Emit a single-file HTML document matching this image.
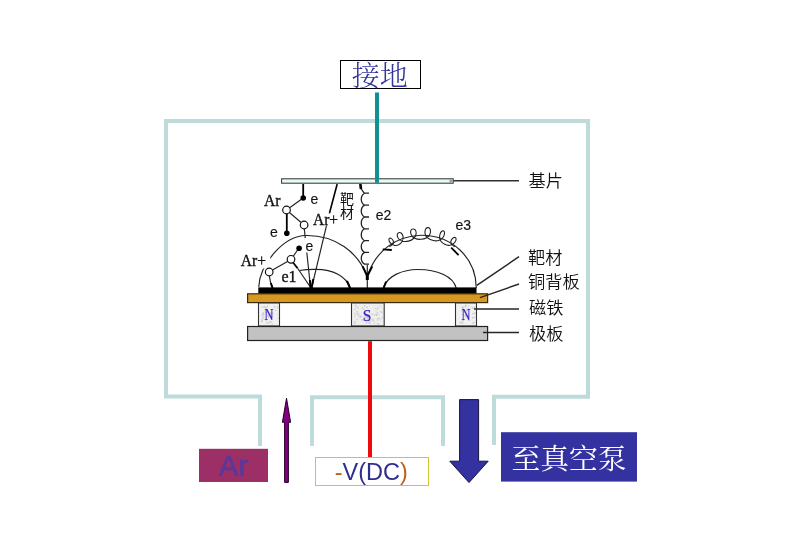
<!DOCTYPE html>
<html lang="zh">
<head>
<meta charset="utf-8">
<title>磁控溅射原理</title>
<style>
html,body{margin:0;padding:0;background:#fff;}
body{width:787px;height:550px;overflow:hidden;position:relative;}
svg{position:absolute;left:0;top:0;display:block;will-change:transform;}
.cjk{font-family:"Liberation Serif","Noto Serif CJK SC",serif;}
.lab{font-family:"Liberation Sans","Noto Sans CJK SC",sans-serif;font-size:17.2px;font-weight:350;fill:#111;}
.ser{font-family:"Liberation Serif","Noto Serif CJK SC",serif;font-size:16px;fill:#111;stroke:#111;stroke-width:0.35px;}
.san{font-family:"Liberation Sans","Noto Sans CJK SC",sans-serif;font-size:14px;fill:#111;stroke:#111;stroke-width:0.15px;}
.ln{stroke:#222;stroke-width:1.15;fill:none;}
.tk{stroke:#000;stroke-width:1.8;fill:none;}
</style>
</head>
<body>
<svg width="787" height="550" viewBox="0 0 787 550">
<rect x="0" y="0" width="787" height="550" fill="#ffffff"/>

<!-- chamber outline -->
<g fill="none" stroke="#bddbda" stroke-width="4" stroke-linejoin="miter">
  <path d="M260 446 V396.6 H166 V121 H588 V396.8 H494 V445"/>
  <path d="M312 446 V397.2 H443 V446"/>
</g>

<!-- ground -->

<rect x="340.5" y="60.5" width="80" height="28" fill="#fff" stroke="#000" stroke-width="1"/>
<text class="cjk" x="379.7" y="86" font-size="28" font-weight="300" fill="#333399" text-anchor="middle">接地</text>

<!-- substrate -->
<rect x="281.6" y="178.8" width="171.6" height="4.4" fill="#eef8f5" stroke="#333a3a" stroke-width="1.05"/>
<rect x="449.5" y="179.3" width="3.2" height="3.6" fill="#9aa4a2"/>
<rect x="375" y="92.5" width="4" height="90.3" fill="#128f91"/>
<line class="ln" x1="453.5" y1="180.7" x2="519" y2="180.7" style="stroke:#303030;stroke-width:1.4"/>
<text class="lab" x="528.5" y="187.4">基片</text>

<!-- field lines -->
<g class="ln">
  <path d="M258.8 287 C259.5 265 283 235.8 306 235.5 C335 235 358 252 367 276"/>
  <path d="M367.6 276 C375 252 395 236 421 235.3 C450 235 476 256 476.3 288"/>
  <path d="M299.5 270.5 C305 269.5 311 269.3 316 269.4 C333 269.6 346 276 350.3 288"/>
  <path d="M383.6 287 C388 276 402 269.5 418 269.5 C437 269.5 453 276 456.2 288"/>
  <line x1="367.3" y1="265" x2="367.3" y2="288"/>
  <path d="M389.5 246.7 C391.7 245.2 395.0 243.9 393.1 240.5 C391.9 238.4 390.6 237.7 389.6 238.3 C388.6 238.9 388.6 240.4 389.9 242.4 C392.0 245.7 396.3 246.0 398.7 244.7 C401.1 243.6 404.3 239.7 402.9 235.7 C402.0 233.0 400.5 232.1 398.8 232.7 C397.2 233.3 396.7 235.1 397.8 237.6 C399.6 241.6 405.1 242.1 408.5 241.1 C412.1 240.3 416.6 237.1 416.2 232.8 C415.9 230.0 414.6 228.7 412.8 229.0 C411.1 229.2 410.2 230.8 410.8 233.6 C411.6 237.8 416.9 239.6 420.7 239.3 C424.5 239.4 429.8 237.3 430.4 232.7 C430.8 229.5 429.9 227.8 428.1 227.6 C426.3 227.4 425.1 229.0 424.9 232.2 C424.7 236.9 429.5 239.8 433.3 240.5 C437.0 241.4 442.1 240.5 443.8 236.1 C445.0 233.2 444.7 231.3 443.4 230.9 C442.1 230.4 440.8 231.7 439.8 234.8 C438.4 239.3 441.6 243.0 444.7 244.3 C447.7 245.9 452.6 245.9 454.9 242.3 C456.4 239.9 456.5 238.3 455.3 237.6 C454.1 236.9 452.7 237.7 451.3 240.1 C449.2 243.9 452.7 245.4 454.8 246.8" stroke-width="1.1"/>
</g>

<!-- particles -->
<g class="ln">
  <line x1="303.2" y1="198" x2="286.5" y2="210"/>
  <line x1="286.5" y1="210" x2="304" y2="225"/>
  <line x1="304.3" y1="229" x2="310.6" y2="288"/>
  <line x1="329.5" y1="213" x2="311.6" y2="288"/>
  <line x1="299" y1="248" x2="291" y2="259.5"/>
  <line x1="291" y1="259.5" x2="269" y2="272"/>
  <line x1="297.6" y1="268.2" x2="311" y2="288"/>
  <path d="M269.4 276 C269.8 281 270.8 284 272.6 288"/>
  <path d="M360.4 184 L361 188.5 L364.2 193.2 M369 193.2 H364.5 C360.2 195.7 360.2 202.6 364.5 205.1 M369 205.1 H364.5 C360.2 207.6 360.2 214.5 364.5 217.0 M369 217.0 H364.5 C360.2 219.5 360.2 226.3 364.5 228.8 M369 228.8 H364.5 C360.2 231.3 360.2 238.2 364.5 240.7 M369 240.7 H364.5 C360.2 243.2 360.2 249.9 364.5 252.4 M369 252.4 H364.5 C360.2 254.9 360.2 261.6 364.5 264.1 H369" style="stroke-width:1.3"/>
</g>
<g class="tk">
  <line x1="303.2" y1="184" x2="303.2" y2="197"/>
  <line x1="337.2" y1="184" x2="329.5" y2="213" stroke-width="1.6"/>
  <line x1="286.8" y1="214" x2="286.8" y2="232"/>
  <line x1="293" y1="262.5" x2="297.6" y2="268.2"/>
  <line x1="360.3" y1="184" x2="361" y2="189" stroke-width="2.6"/>
  <line x1="382.7" y1="249.3" x2="391.8" y2="250"/>
  <line x1="451.2" y1="247.7" x2="458.6" y2="255.2"/>
  <line x1="367.3" y1="273" x2="367.3" y2="280" stroke-width="3"/>
  <line x1="362.6" y1="266.4" x2="366.8" y2="275" stroke-width="2"/>
  <line x1="372.2" y1="266.4" x2="367.9" y2="275" stroke-width="2"/>
  <line x1="347" y1="281" x2="350" y2="288" stroke-width="2"/>
  <line x1="386.2" y1="281.5" x2="383.6" y2="288" stroke-width="2"/>
  <line x1="313.3" y1="279" x2="311.6" y2="288" stroke-width="2"/>
  <line x1="309.9" y1="280" x2="310.6" y2="288" stroke-width="2"/>
  <line x1="270.8" y1="283" x2="272.6" y2="288" stroke-width="2"/>
</g>

<!-- label backgrounds -->
<rect x="239" y="257.5" width="31.5" height="11" fill="#fff"/>
<rect x="312" y="213.5" width="27" height="12" fill="#fff"/>
<rect x="304.5" y="238" width="9.5" height="14.5" fill="#fff"/>

<g fill="#000">
  <circle cx="303.2" cy="198" r="2.8"/>
  <circle cx="286.8" cy="233.3" r="2.8"/>
  <circle cx="299.1" cy="248.3" r="2.8"/>
</g>
<g fill="#fff" stroke="#111" stroke-width="1.2">
  <circle cx="286.5" cy="210" r="3.8"/>
  <circle cx="304.1" cy="225" r="3.8"/>
  <circle cx="291" cy="259.3" r="3.8"/>
  <circle cx="269.2" cy="272" r="3.8"/>
</g>

<!-- target, copper, magnets, plate -->
<rect x="258.3" y="287.4" width="218.2" height="6.3" fill="#000"/>
<rect x="247.6" y="293.8" width="240" height="8.8" fill="#d8981f" stroke="#3a2a10" stroke-width="1.2"/>
<rect x="258.5" y="303" width="21" height="23" fill="#f1f1f1" stroke="#333" stroke-width="1.1"/>
<rect x="351.5" y="303" width="32.7" height="23" fill="#eeeeee" stroke="#333" stroke-width="1.1"/>
<rect x="455.5" y="303" width="21" height="23" fill="#f1f1f1" stroke="#333" stroke-width="1.1"/>
<g><rect x="266.0" y="307.4" width="1.4" height="1.4" fill="#dcdcdc"/><rect x="261.3" y="320.1" width="1.4" height="1.4" fill="#c6c9d0"/><rect x="266.7" y="305.6" width="1.4" height="1.4" fill="#c8cdc6"/><rect x="264.1" y="306.1" width="1.4" height="1.4" fill="#d2d2d2"/><rect x="261.7" y="306.2" width="1.4" height="1.4" fill="#d2d2d2"/><rect x="261.5" y="315.2" width="1.4" height="1.4" fill="#d0d3ca"/><rect x="271.2" y="315.6" width="1.4" height="1.4" fill="#c6c9d0"/><rect x="270.3" y="312.0" width="1.4" height="1.4" fill="#d0d3ca"/><rect x="261.3" y="320.8" width="1.4" height="1.4" fill="#c2c6cc"/><rect x="267.6" y="314.8" width="1.4" height="1.4" fill="#c8cdc6"/><rect x="265.7" y="320.0" width="1.4" height="1.4" fill="#d0d3ca"/><rect x="262.3" y="315.4" width="1.4" height="1.4" fill="#d0d3ca"/><rect x="266.8" y="314.9" width="1.4" height="1.4" fill="#c6c9d0"/><rect x="270.1" y="316.3" width="1.4" height="1.4" fill="#d2d2d2"/><rect x="272.1" y="312.6" width="1.4" height="1.4" fill="#c2c6cc"/><rect x="268.4" y="322.0" width="1.4" height="1.4" fill="#c2c6cc"/><rect x="265.6" y="319.6" width="1.4" height="1.4" fill="#dcdcdc"/><rect x="273.8" y="306.1" width="1.4" height="1.4" fill="#c2c6cc"/><rect x="269.4" y="321.1" width="1.4" height="1.4" fill="#dcdcdc"/><rect x="268.1" y="316.1" width="1.4" height="1.4" fill="#c6c9d0"/><rect x="262.5" y="312.4" width="1.4" height="1.4" fill="#c2c6cc"/><rect x="263.1" y="313.8" width="1.4" height="1.4" fill="#c6c9d0"/><rect x="276.9" y="306.0" width="1.4" height="1.4" fill="#c8cdc6"/><rect x="270.2" y="321.1" width="1.4" height="1.4" fill="#c2c6cc"/><rect x="266.3" y="311.2" width="1.4" height="1.4" fill="#d2d2d2"/><rect x="270.4" y="313.2" width="1.4" height="1.4" fill="#c6c9d0"/><rect x="276.6" y="313.5" width="1.4" height="1.4" fill="#dcdcdc"/><rect x="261.6" y="318.4" width="1.4" height="1.4" fill="#c2c6cc"/><rect x="271.5" y="323.4" width="1.4" height="1.4" fill="#d2d2d2"/><rect x="265.3" y="311.8" width="1.4" height="1.4" fill="#dcdcdc"/><rect x="266.4" y="322.4" width="1.4" height="1.4" fill="#c2c6cc"/><rect x="263.4" y="306.7" width="1.4" height="1.4" fill="#c6c9d0"/><rect x="264.2" y="310.0" width="1.4" height="1.4" fill="#dcdcdc"/><rect x="264.7" y="311.9" width="1.4" height="1.4" fill="#d2d2d2"/><rect x="261.9" y="313.0" width="1.4" height="1.4" fill="#c8cdc6"/><rect x="265.2" y="307.1" width="1.4" height="1.4" fill="#d2d2d2"/><rect x="275.2" y="309.8" width="1.4" height="1.4" fill="#d2d2d2"/><rect x="277.3" y="317.5" width="1.4" height="1.4" fill="#d2d2d2"/><rect x="276.8" y="307.4" width="1.4" height="1.4" fill="#d0d3ca"/><rect x="263.1" y="317.0" width="1.4" height="1.4" fill="#c6c9d0"/><rect x="367.6" y="315.7" width="1.4" height="1.4" fill="#c2c6cc"/><rect x="361.7" y="307.3" width="1.4" height="1.4" fill="#c8cdc6"/><rect x="364.2" y="315.3" width="1.4" height="1.4" fill="#d0d3ca"/><rect x="373.5" y="314.3" width="1.4" height="1.4" fill="#c8cdc6"/><rect x="372.5" y="318.6" width="1.4" height="1.4" fill="#d2d2d2"/><rect x="379.6" y="319.3" width="1.4" height="1.4" fill="#dcdcdc"/><rect x="376.6" y="312.0" width="1.4" height="1.4" fill="#d2d2d2"/><rect x="364.9" y="313.6" width="1.4" height="1.4" fill="#d2d2d2"/><rect x="355.3" y="305.8" width="1.4" height="1.4" fill="#d0d3ca"/><rect x="366.3" y="306.6" width="1.4" height="1.4" fill="#c8cdc6"/><rect x="355.0" y="304.5" width="1.4" height="1.4" fill="#d0d3ca"/><rect x="369.1" y="322.5" width="1.4" height="1.4" fill="#c8cdc6"/><rect x="354.2" y="321.1" width="1.4" height="1.4" fill="#c8cdc6"/><rect x="364.4" y="316.6" width="1.4" height="1.4" fill="#c2c6cc"/><rect x="371.0" y="313.5" width="1.4" height="1.4" fill="#c6c9d0"/><rect x="378.1" y="323.4" width="1.4" height="1.4" fill="#d2d2d2"/><rect x="367.4" y="310.4" width="1.4" height="1.4" fill="#d0d3ca"/><rect x="356.5" y="311.0" width="1.4" height="1.4" fill="#c2c6cc"/><rect x="367.4" y="317.6" width="1.4" height="1.4" fill="#c8cdc6"/><rect x="354.2" y="322.6" width="1.4" height="1.4" fill="#c8cdc6"/><rect x="364.0" y="317.6" width="1.4" height="1.4" fill="#c6c9d0"/><rect x="375.5" y="310.2" width="1.4" height="1.4" fill="#dcdcdc"/><rect x="378.5" y="317.7" width="1.4" height="1.4" fill="#c2c6cc"/><rect x="368.5" y="321.8" width="1.4" height="1.4" fill="#c2c6cc"/><rect x="375.9" y="314.6" width="1.4" height="1.4" fill="#c8cdc6"/><rect x="363.1" y="308.7" width="1.4" height="1.4" fill="#d0d3ca"/><rect x="376.9" y="320.0" width="1.4" height="1.4" fill="#dcdcdc"/><rect x="376.8" y="308.3" width="1.4" height="1.4" fill="#d2d2d2"/><rect x="363.8" y="305.1" width="1.4" height="1.4" fill="#c6c9d0"/><rect x="376.4" y="313.5" width="1.4" height="1.4" fill="#d0d3ca"/><rect x="373.6" y="322.7" width="1.4" height="1.4" fill="#d2d2d2"/><rect x="376.9" y="318.2" width="1.4" height="1.4" fill="#c2c6cc"/><rect x="381.2" y="311.4" width="1.4" height="1.4" fill="#d0d3ca"/><rect x="356.5" y="313.4" width="1.4" height="1.4" fill="#c2c6cc"/><rect x="359.4" y="316.4" width="1.4" height="1.4" fill="#c8cdc6"/><rect x="377.9" y="313.6" width="1.4" height="1.4" fill="#dcdcdc"/><rect x="363.5" y="316.7" width="1.4" height="1.4" fill="#dcdcdc"/><rect x="357.0" y="311.9" width="1.4" height="1.4" fill="#dcdcdc"/><rect x="375.3" y="313.6" width="1.4" height="1.4" fill="#d0d3ca"/><rect x="366.1" y="316.6" width="1.4" height="1.4" fill="#c6c9d0"/><rect x="376.7" y="323.0" width="1.4" height="1.4" fill="#d2d2d2"/><rect x="366.9" y="318.6" width="1.4" height="1.4" fill="#c6c9d0"/><rect x="374.5" y="307.7" width="1.4" height="1.4" fill="#d0d3ca"/><rect x="354.3" y="315.7" width="1.4" height="1.4" fill="#d2d2d2"/><rect x="376.9" y="307.3" width="1.4" height="1.4" fill="#c8cdc6"/><rect x="381.9" y="317.0" width="1.4" height="1.4" fill="#c2c6cc"/><rect x="358.0" y="314.9" width="1.4" height="1.4" fill="#c6c9d0"/><rect x="353.9" y="322.9" width="1.4" height="1.4" fill="#dcdcdc"/><rect x="356.5" y="318.7" width="1.4" height="1.4" fill="#d0d3ca"/><rect x="366.1" y="321.1" width="1.4" height="1.4" fill="#d0d3ca"/><rect x="354.3" y="308.5" width="1.4" height="1.4" fill="#c8cdc6"/><rect x="360.5" y="315.6" width="1.4" height="1.4" fill="#c2c6cc"/><rect x="369.3" y="320.3" width="1.4" height="1.4" fill="#c6c9d0"/><rect x="379.9" y="311.2" width="1.4" height="1.4" fill="#d2d2d2"/><rect x="372.7" y="320.0" width="1.4" height="1.4" fill="#c8cdc6"/><rect x="365.7" y="321.9" width="1.4" height="1.4" fill="#c8cdc6"/><rect x="357.3" y="307.4" width="1.4" height="1.4" fill="#c8cdc6"/><rect x="354.0" y="312.9" width="1.4" height="1.4" fill="#d0d3ca"/><rect x="371.1" y="319.2" width="1.4" height="1.4" fill="#d0d3ca"/><rect x="358.5" y="313.5" width="1.4" height="1.4" fill="#dcdcdc"/><rect x="357.0" y="305.7" width="1.4" height="1.4" fill="#dcdcdc"/><rect x="368.5" y="315.1" width="1.4" height="1.4" fill="#c6c9d0"/><rect x="379.1" y="305.6" width="1.4" height="1.4" fill="#d0d3ca"/><rect x="361.5" y="319.2" width="1.4" height="1.4" fill="#c8cdc6"/><rect x="465.2" y="305.0" width="1.4" height="1.4" fill="#c6c9d0"/><rect x="465.0" y="316.1" width="1.4" height="1.4" fill="#c8cdc6"/><rect x="467.8" y="308.3" width="1.4" height="1.4" fill="#c2c6cc"/><rect x="465.2" y="314.6" width="1.4" height="1.4" fill="#d2d2d2"/><rect x="466.1" y="309.2" width="1.4" height="1.4" fill="#c8cdc6"/><rect x="472.4" y="322.4" width="1.4" height="1.4" fill="#c2c6cc"/><rect x="473.2" y="321.5" width="1.4" height="1.4" fill="#d0d3ca"/><rect x="471.8" y="307.1" width="1.4" height="1.4" fill="#c6c9d0"/><rect x="464.2" y="310.5" width="1.4" height="1.4" fill="#dcdcdc"/><rect x="461.6" y="305.9" width="1.4" height="1.4" fill="#dcdcdc"/><rect x="462.6" y="306.8" width="1.4" height="1.4" fill="#d0d3ca"/><rect x="473.5" y="316.7" width="1.4" height="1.4" fill="#c2c6cc"/><rect x="459.9" y="321.3" width="1.4" height="1.4" fill="#d2d2d2"/><rect x="461.2" y="322.6" width="1.4" height="1.4" fill="#d2d2d2"/><rect x="472.5" y="307.6" width="1.4" height="1.4" fill="#dcdcdc"/><rect x="471.7" y="307.6" width="1.4" height="1.4" fill="#d2d2d2"/><rect x="474.4" y="312.2" width="1.4" height="1.4" fill="#d2d2d2"/><rect x="460.8" y="310.6" width="1.4" height="1.4" fill="#dcdcdc"/><rect x="463.7" y="310.9" width="1.4" height="1.4" fill="#d2d2d2"/><rect x="465.0" y="304.8" width="1.4" height="1.4" fill="#c2c6cc"/><rect x="466.3" y="310.1" width="1.4" height="1.4" fill="#c6c9d0"/><rect x="459.4" y="322.0" width="1.4" height="1.4" fill="#d0d3ca"/><rect x="474.0" y="306.5" width="1.4" height="1.4" fill="#c2c6cc"/><rect x="462.1" y="321.7" width="1.4" height="1.4" fill="#d0d3ca"/><rect x="462.1" y="307.0" width="1.4" height="1.4" fill="#d2d2d2"/><rect x="471.9" y="317.3" width="1.4" height="1.4" fill="#c2c6cc"/><rect x="464.4" y="314.7" width="1.4" height="1.4" fill="#c8cdc6"/><rect x="467.2" y="317.8" width="1.4" height="1.4" fill="#c6c9d0"/><rect x="462.2" y="319.7" width="1.4" height="1.4" fill="#d0d3ca"/><rect x="464.7" y="305.9" width="1.4" height="1.4" fill="#c6c9d0"/><rect x="468.3" y="319.7" width="1.4" height="1.4" fill="#c6c9d0"/><rect x="467.8" y="308.7" width="1.4" height="1.4" fill="#c2c6cc"/><rect x="472.2" y="313.1" width="1.4" height="1.4" fill="#c2c6cc"/><rect x="474.4" y="312.4" width="1.4" height="1.4" fill="#c2c6cc"/><rect x="468.1" y="305.3" width="1.4" height="1.4" fill="#dcdcdc"/><rect x="461.6" y="306.6" width="1.4" height="1.4" fill="#d0d3ca"/><rect x="462.0" y="307.9" width="1.4" height="1.4" fill="#c2c6cc"/><rect x="468.2" y="314.6" width="1.4" height="1.4" fill="#d0d3ca"/><rect x="462.4" y="314.0" width="1.4" height="1.4" fill="#d0d3ca"/><rect x="462.1" y="319.8" width="1.4" height="1.4" fill="#c2c6cc"/></g>
<rect x="247.6" y="326.5" width="240" height="14" fill="#c2c2c2" stroke="#222" stroke-width="1.2"/>
<g font-family='"Liberation Serif",serif' font-size="17.3" fill="#3c1cc4" stroke="#3c1cc4" stroke-width="0.25" text-anchor="middle">
  <text transform="translate(269 320.2) scale(0.72 1)">N</text>
  <text transform="translate(367.2 320.8) scale(0.9 1)">S</text>
  <text transform="translate(466 320.2) scale(0.72 1)">N</text>
</g>

<!-- red lead -->
<rect x="368" y="341.2" width="4" height="116" fill="#ee0a0c"/>

<!-- leader lines -->
<g class="ln" style="stroke:#262626;stroke-width:1.4">
  <line x1="476.8" y1="285.3" x2="519" y2="256.7"/>
  <line x1="480" y1="297.6" x2="519" y2="284"/>
  <line x1="474" y1="309" x2="519" y2="309"/>
  <line x1="483" y1="332.5" x2="519" y2="332.5"/>
</g>
<text class="lab" x="528" y="263.5">靶材</text>
<text class="lab" x="528" y="288">铜背板</text>
<text class="lab" x="529" y="314">磁铁</text>
<text class="lab" x="529" y="340">极板</text>

<!-- small labels -->
<text class="ser" x="264" y="205.8" font-size="17" textLength="16.5" lengthAdjust="spacingAndGlyphs" style="font-size:17px">Ar</text>
<text class="ser" x="313" y="225.2" textLength="25" lengthAdjust="spacingAndGlyphs" style="font-size:17px">Ar+</text>
<text class="ser" x="240.8" y="266" textLength="25.2" lengthAdjust="spacingAndGlyphs" style="font-size:17px">Ar+</text>
<text class="san" x="310.5" y="203.5">e</text>
<text class="san" x="270" y="236.5">e</text>
<text class="san" x="305.5" y="250.5">e</text>
<text class="ser" x="281.5" y="282">e1</text>
<text class="san" x="375.8" y="220">e2</text>
<text class="san" x="455.5" y="230">e3</text>
<text class="lab" x="340" y="204" style="font-size:14px;font-weight:400">靶</text>
<text class="lab" x="340" y="218" style="font-size:14px;font-weight:400">材</text>

<!-- Ar inlet -->
<rect x="199" y="448.8" width="69" height="33.2" fill="#9c3066"/>
<text x="233.5" y="476" font-family='"Liberation Sans",sans-serif' font-size="29.5" fill="#58389e" stroke="#58389e" stroke-width="0.5" text-anchor="middle">Ar</text>
<path d="M286.5 398.2 L290.6 422.3 H288.4 V482.4 H284.6 V422.3 H282.4 Z" fill="#800080" stroke="#24002a" stroke-width="1"/>

<!-- -V(DC) -->
<rect x="315.5" y="457.5" width="113" height="28" fill="#fff" stroke="#c8c832" stroke-width="1"/>
<text x="371.3" y="480.2" font-family='"Liberation Sans",sans-serif' font-size="23.5" fill="#2e2e8e" text-anchor="middle"><tspan fill="#c0601a">-</tspan>V(DC<tspan fill="#c0601a">)</tspan></text>

<!-- pump arrow -->
<path d="M459.6 399.6 H478.6 V461.2 H488.2 L469 482.6 L449.8 461.2 H459.6 Z" fill="#3432a0" stroke="#14143a" stroke-width="1"/>
<rect x="501" y="432.2" width="136" height="49.4" fill="#3432a0"/>
<text class="cjk" x="569" y="469.3" font-size="28.8" fill="#ffffff" text-anchor="middle">至真空泵</text>
</svg>
</body>
</html>
